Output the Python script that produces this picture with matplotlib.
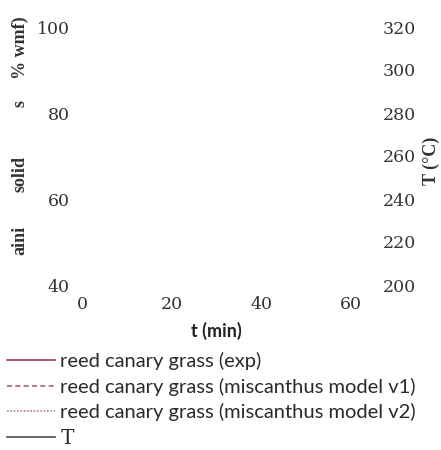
import matplotlib
matplotlib.use("Agg")
import matplotlib.pyplot as plt

# time axis and series (no measurements recorded in this run)
t_ticks = [0, 20, 40, 60]
solid_ticks = [40, 60, 80, 100]
temp_ticks = [200, 220, 240, 260, 280, 300, 320]

t_exp, solid_exp = [], []
t_v1, solid_v1 = [], []
t_v2, solid_v2 = [], []
t_temp, temp = [], []

labels = ["reed canary grass (exp)",
          "reed canary grass (miscanthus model v1)",
          "reed canary grass (miscanthus model v2)",
          "T"]

W, H = 441, 450
fig = plt.figure(figsize=(W / 100, H / 100), dpi=100)
ax = fig.add_axes([82 / W, 1 - 285 / H, (351 - 82) / W, (285 - 27) / H])
ax2 = ax.twinx()

l1, = ax.plot(t_exp, solid_exp, color="#9c3c5e", lw=1.2)
l2, = ax.plot(t_v1, solid_v1, color="#a8607e", lw=1.2, ls=(0, (3, 2)))
l3, = ax.plot(t_v2, solid_v2, color="#b87a96", lw=1.2, ls=(0, (1, 1)))
l4, = ax2.plot(t_temp, temp, color="#4a4a58", lw=1.2)

ax.set_xlim(0, 60)
ax.set_ylim(40, 100)
ax2.set_ylim(200, 320)
ax.set_xticks(t_ticks)
ax.set_yticks(solid_ticks)
ax2.set_yticks(temp_ticks)

tick_font = dict(family="DejaVu Serif", size=12.5)
for a in (ax, ax2):
    for s in a.spines.values():
        s.set_visible(False)
    for lab in a.get_xticklabels() + a.get_yticklabels():
        lab.set_fontfamily(tick_font["family"])
        lab.set_fontsize(tick_font["size"])
        lab.set_color("#333333")
ax.tick_params(axis="both", length=0)
ax.tick_params(axis="y", pad=9)
ax.tick_params(axis="x", pad=8)
ax2.tick_params(axis="y", length=0, pad=23)

# axis titles
ax.set_xlabel("t (min)", family="Lato", weight="bold", size=13, labelpad=6,
              color="#222222")
lab_kw = dict(rotation=90, ha="center", va="center", family="Liberation Serif",
              weight="bold", size=13, color="#333333")
fig.text(20 / W, 1 - 48 / H, "% wmf)", **lab_kw)
fig.text(20 / W, 1 - 104 / H, "s", **lab_kw)
fig.text(20 / W, 1 - 174 / H, "solid", **lab_kw)
fig.text(20 / W, 1 - 240 / H, "aini", **lab_kw)
fig.text(431 / W, 1 - 161 / H, "T (°C)", **lab_kw)

leg = fig.legend([l1, l2, l3, l4], labels, loc="upper left",
                 bbox_to_anchor=(7 / W, 1 - 352 / H), frameon=False,
                 prop=dict(family="Lato", size=14.5), handlelength=2.4,
                 handletextpad=0.25, labelspacing=0.38, borderaxespad=0,
                 borderpad=0, labelcolor="#2a2a2a")
leg.get_texts()[3].set_fontfamily("DejaVu Serif")

fig.savefig("out.png", dpi=100)
